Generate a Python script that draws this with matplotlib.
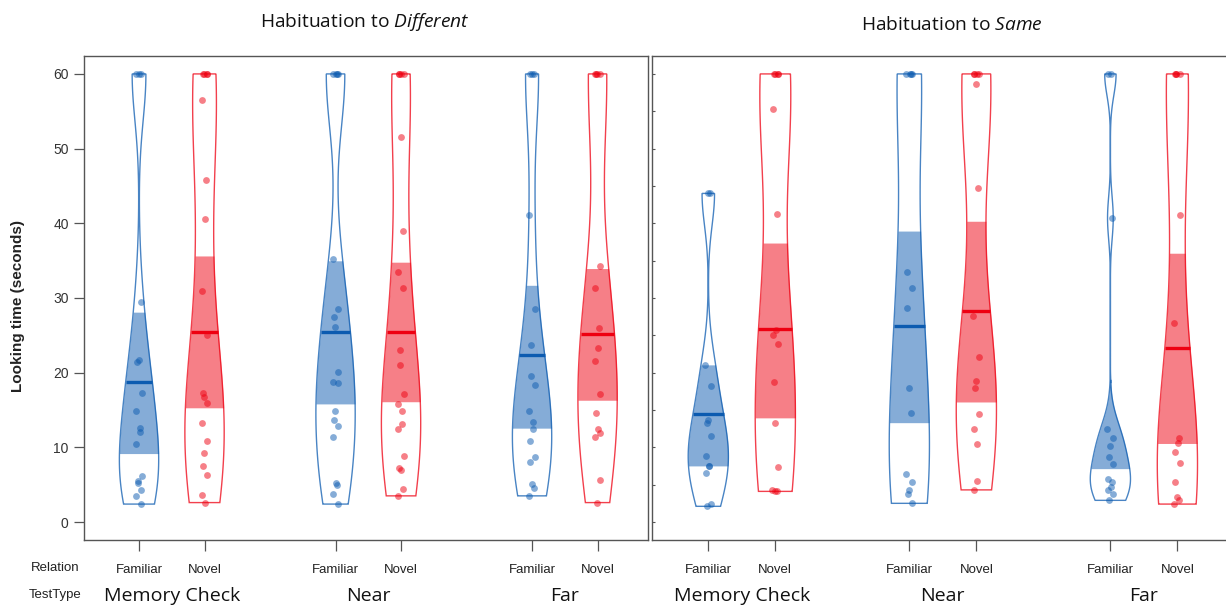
import numpy as np
import matplotlib
matplotlib.use('Agg')
import matplotlib.pyplot as plt

plt.rcParams['font.family'] = ['Liberation Sans', 'DejaVu Sans']
plt.rcParams['mathtext.fontset'] = 'custom'
plt.rcParams['mathtext.rm'] = 'Open Sans'
plt.rcParams['mathtext.it'] = 'Open Sans:italic'

relation = ['Familiar', 'Novel', 'Familiar', 'Novel', 'Familiar', 'Novel']
test_types = ['Memory Check', 'Near', 'Far']
titles = ['Habituation to $\\mathit{Different}$', 'Habituation to $\\mathit{Same}$']

# Habituation to Different: MC-Fam, MC-Nov, Near-Fam, Near-Nov, Far-Fam, Far-Nov
diff_points = [
    [60, 60, 60, 29.5, 21.7, 21.4, 17.3, 14.9, 12.6, 12.0, 10.4, 6.1, 5.5, 5.2, 4.3, 3.5, 2.4],
    [60, 60, 60, 60, 56.5, 45.8, 40.6, 30.9, 25.0, 17.3, 16.8, 15.9, 13.2, 10.8, 9.2, 7.5, 6.3, 3.6, 2.6],
    [60, 60, 60, 60, 35.2, 28.5, 27.5, 26.1, 20.1, 18.7, 18.6, 14.8, 13.7, 12.9, 11.4, 5.2, 5.0, 3.8, 2.4],
    [60, 60, 60, 60, 51.6, 39.0, 33.5, 31.4, 23.0, 21.0, 17.2, 15.8, 14.8, 13.1, 12.5, 8.8, 7.2, 6.9, 4.4, 3.5],
    [60, 60, 60, 41.1, 28.5, 23.7, 19.5, 18.3, 14.8, 13.4, 12.5, 10.9, 8.7, 8.1, 5.1, 4.5, 3.5],
    [60, 60, 60, 60, 34.3, 31.4, 26.0, 23.3, 21.6, 17.2, 14.6, 12.5, 11.9, 11.4, 5.6, 2.6],
]
diff_means = [18.7, 25.5, 25.5, 25.5, 22.4, 25.2]
diff_lo = [9.1, 15.2, 15.8, 16.1, 12.5, 16.3]
diff_hi = [28.2, 35.7, 35.0, 34.8, 31.8, 34.0]

# Habituation to Same
same_points = [
    [44.0, 44.0, 21.0, 18.2, 13.7, 13.3, 11.5, 8.8, 7.5, 7.5, 6.6, 2.4, 2.1],
    [60, 60, 60, 60, 55.3, 41.3, 25.7, 25.0, 23.9, 18.8, 13.3, 7.4, 4.3, 4.1, 4.1],
    [60, 60, 60, 60, 33.5, 31.4, 28.7, 18.0, 14.6, 6.4, 5.3, 4.3, 3.8, 2.5],
    [60, 60, 60, 60, 58.7, 44.7, 27.6, 22.1, 18.9, 17.9, 14.4, 12.4, 10.5, 5.5, 4.3],
    [60, 60, 40.7, 12.4, 11.3, 10.2, 8.7, 7.8, 5.8, 5.4, 4.7, 4.3, 3.7, 2.9],
    [60, 60, 60, 60, 41.1, 26.6, 11.3, 10.6, 9.4, 7.9, 5.3, 3.4, 2.9, 2.4],
]
same_means = [14.4, 25.8, 26.3, 28.2, 18.9, 23.3]
same_lo = [7.5, 13.9, 13.3, 16.0, 7.1, 10.5]
same_hi = [21.1, 37.4, 39.0, 40.3, 22.5, 36.0]

positions = [1, 2, 4, 5, 7, 8]
colors = ['#0C5BB0', '#EE0011'] * 3
half_width = 0.3


def bean(vals):
    vals = np.asarray(vals, dtype=float)
    sd = vals.std(ddof=1)
    iqr = np.subtract(*np.percentile(vals, [75, 25]))
    bw = 0.9 * min(sd, iqr / 1.34) * len(vals) ** -0.2
    ys = np.linspace(vals.min(), vals.max(), 512)
    d = np.exp(-0.5 * ((ys[:, None] - vals[None, :]) / bw) ** 2).sum(1)
    return ys, d / d.max() * half_width


def pirate(ax, points, means, lo, hi):
    for k, (p, col) in enumerate(zip(positions, colors)):
        ys, w = bean(points[k])
        m = (ys >= lo[k]) & (ys <= hi[k])
        ax.fill_betweenx(ys[m], p - w[m], p + w[m], color=col, alpha=0.5, lw=0)
        ax.fill(np.r_[p - w, (p + w)[::-1]], np.r_[ys, ys[::-1]],
                facecolor='none', edgecolor=col, alpha=0.75, lw=1.0)
        wm = np.interp(means[k], ys, w)
        ax.plot([p - wm, p + wm], [means[k], means[k]], color=col, lw=2.4,
                solid_capstyle='butt')
        n = len(points[k])
        jit = 0.045 * np.sin(np.arange(n) * 2.4 + k)
        ax.scatter(p + jit, points[k], s=24, color=col, alpha=0.5, lw=0)


fig = plt.figure(figsize=(12.26, 6.08), dpi=100)
W, H = 1226, 608
ax1 = fig.add_axes([84 / W, 1 - 540 / H, 564 / W, 484 / H])
ax2 = fig.add_axes([652 / W, 1 - 540 / H, 577 / W, 484 / H])

pirate(ax1, diff_points, diff_means, diff_lo, diff_hi)
pirate(ax2, same_points, same_means, same_lo, same_hi)

for ax in (ax1, ax2):
    ax.set_xlim(0.16, 8.77)
    ax.set_ylim(-2.41, 62.4)
    for s in ax.spines.values():
        s.set_color('#555555')
        s.set_linewidth(1.0)
    ax.set_xticks(positions)
    ax.set_xticklabels(relation, fontsize=9.5, color='#222222')
    ax.tick_params(axis='x', length=8, width=0.9, color='#555555', pad=9)
    for t, x in zip(test_types, [1.5, 4.5, 7.5]):
        ax.text(x, -0.115, t, transform=ax.get_xaxis_transform(), ha='center',
                va='center', fontsize=14, family='Open Sans', color='#111111')

ax1.set_yticks(range(0, 61, 10))
ax1.tick_params(axis='y', length=7, width=0.9, color='#555555', labelsize=10,
                labelcolor='#333333', pad=4)
ax2.set_yticks(range(0, 61, 5))
ax2.set_yticklabels([])
ax2.tick_params(axis='y', length=2, direction='in', color='#555555')

fig.text(18 / W, 1 - 306 / H, 'Looking time (seconds)', rotation=90,
         ha='center', va='center', fontsize=11, fontweight='bold', color='#222222')
fig.text(55 / W, 1 - 568 / H, 'Relation', ha='center', va='center',
         fontsize=9.5, color='#222222')
fig.text(55 / W, 1 - 595 / H, 'TestType', ha='center', va='center',
         fontsize=9.5, color='#222222')
fig.text(365 / W, 1 - 22 / H, titles[0], ha='center', va='center',
         fontsize=13.8, family='Open Sans', color='#111111')
fig.text(952 / W, 1 - 25 / H, titles[1], ha='center', va='center',
         fontsize=13.8, family='Open Sans', color='#111111')

fig.savefig('out.png', dpi=100)
